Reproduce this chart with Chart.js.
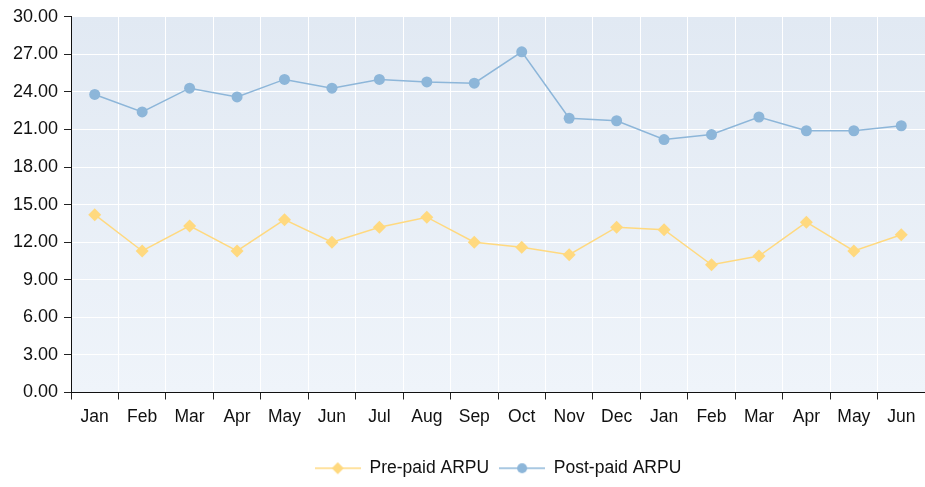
<!DOCTYPE html>
<html>
<head>
<meta charset="utf-8">
<script src="https://cdn.jsdelivr.net/npm/chart.js@4/dist/chart.umd.min.js"></script>
<style>
    html, body { margin: 0; padding: 0; background: #fff; }
    #wrap { width: 925px; height: 487px; }
</style>
</head>
<body>
<div id="wrap"><canvas id="arpuChart"></canvas></div>
<script>
const months = ['Jan', 'Feb', 'Mar', 'Apr', 'May', 'Jun', 'Jul', 'Aug', 'Sep', 'Oct', 'Nov', 'Dec',
                'Jan', 'Feb', 'Mar', 'Apr', 'May', 'Jun'];
const prepaidArpu = [14.2, 11.3, 13.3, 11.3, 13.8, 12.0, 13.2, 14.0, 12.0, 11.6, 11.0, 13.2,
                     13.0, 10.2, 10.9, 13.6, 11.3, 12.6];
const postpaidArpu = [23.8, 22.4, 24.3, 23.6, 25.0, 24.3, 25.0, 24.8, 24.7, 27.2, 21.9, 21.7,
                      20.2, 20.6, 22.0, 20.9, 20.9, 21.3];
const yMin = 0, yMax = 30, yStep = 3;

const prepaidColor = '#ffd97f';
const postpaidColor = '#8db6d9';
const fontFamily = '"Liberation Sans", Arial, sans-serif';

// legend marker: short line with the point marker in the middle
function legendMarker(color, style) {
    const c = document.createElement('canvas');
    c.width = 46; c.height = 14;
    const g = c.getContext('2d');
    g.strokeStyle = color;
    g.lineWidth = 1.5;
    g.beginPath(); g.moveTo(0, 7); g.lineTo(46, 7); g.stroke();
    g.fillStyle = color;
    g.beginPath();
    if (style === 'diamond') {
        g.moveTo(23, 1); g.lineTo(29, 7); g.lineTo(23, 13); g.lineTo(17, 7);
    } else {
        g.arc(23, 7, 5, 0, Math.PI * 2);
    }
    g.closePath(); g.fill();
    return c;
}
const legendImages = [legendMarker(prepaidColor, 'diamond'), legendMarker(postpaidColor, 'circle')];

const plotBackground = {
    id: 'plotBackground',
    beforeDraw(chart) {
        const { ctx, chartArea: a } = chart;
        const grad = ctx.createLinearGradient(0, a.top, 0, a.bottom);
        grad.addColorStop(0, '#e1e9f3');
        grad.addColorStop(1, '#eff4fa');
        ctx.save();
        ctx.fillStyle = grad;
        ctx.fillRect(a.left, a.top, a.right - a.left, a.bottom - a.top);
        ctx.restore();
    }
};

// centre the legend under the plot area instead of the whole canvas
const legendUnderPlot = {
    id: 'legendUnderPlot',
    afterLayout(chart) {
        if (chart.legend) {
            chart.legend.left = chart.chartArea.left;
            chart.legend.right = chart.chartArea.right;
            chart.legend.width = chart.chartArea.right - chart.chartArea.left;
        }
    }
};

const ctx = document.getElementById('arpuChart').getContext('2d');
new Chart(ctx, {
    type: 'line',
    data: {
        labels: months,
        datasets: [
            {
                label: 'Pre-paid ARPU',
                data: prepaidArpu,
                borderColor: prepaidColor,
                backgroundColor: prepaidColor,
                borderWidth: 1.5,
                tension: 0,
                fill: false,
                pointStyle: 'rectRot',
                pointRadius: 6.5,
                pointBorderWidth: 0,
                pointBackgroundColor: prepaidColor
            },
            {
                label: 'Post-paid ARPU',
                data: postpaidArpu,
                borderColor: postpaidColor,
                backgroundColor: postpaidColor,
                borderWidth: 1.5,
                tension: 0,
                fill: false,
                pointStyle: 'circle',
                pointRadius: 5.5,
                pointBorderWidth: 0,
                pointBackgroundColor: postpaidColor
            }
        ]
    },
    options: {
        responsive: true,
        maintainAspectRatio: false,
        animation: false,
        layout: { autoPadding: false, padding: { top: 16, right: 0, bottom: 0, left: 0 } },
        scales: {
            x: {
                offset: true,
                grid: { color: '#ffffff', tickColor: '#222', tickLength: 7, offset: true },
                border: { color: '#111', width: 1 },
                ticks: { color: '#111', font: { family: fontFamily, size: 17.5 }, padding: 7, maxRotation: 0, autoSkip: false },
                afterFit: s => { s.height = 57; }
            },
            y: {
                min: yMin,
                max: yMax,
                grid: { color: '#ffffff', tickColor: '#222', tickLength: 7 },
                border: { color: '#111', width: 1 },
                ticks: {
                    stepSize: yStep,
                    color: '#111',
                    padding: 6,
                    font: { family: fontFamily, size: 18 },
                    callback: v => v.toFixed(2)
                },
                afterFit: s => { s.width = 71; }
            }
        },
        plugins: {
            title: { display: false },
            tooltip: { enabled: false },
            legend: {
                display: true,
                position: 'bottom',
                labels: {
                    color: '#111',
                    font: { family: fontFamily, size: 17.5 },
                    usePointStyle: true,
                    pointStyleWidth: 46,
                    padding: 10,
                    generateLabels: chart => Chart.defaults.plugins.legend.labels.generateLabels(chart)
                        .map((item, i) => Object.assign(item, { pointStyle: legendImages[i] }))
                }
            }
        }
    },
    plugins: [plotBackground, legendUnderPlot]
});
</script>
</body>
</html>
